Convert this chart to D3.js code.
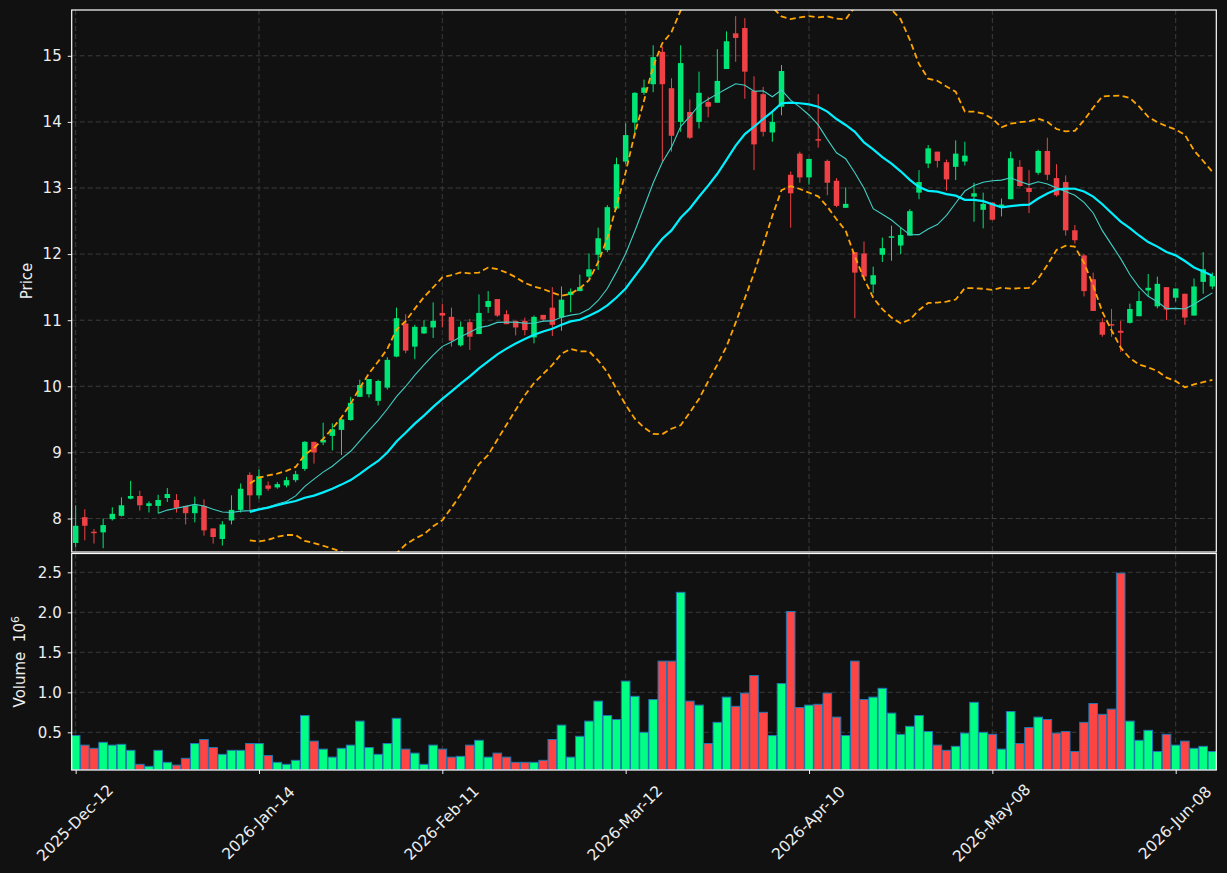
<!DOCTYPE html>
<html>
<head>
<meta charset="utf-8">
<script src="https://cdn.jsdelivr.net/npm/d3@7"></script>
<style>
  html, body { margin: 0; padding: 0; background: #111111; }
  #chart { width: 1227px; height: 873px; }
  text { font-family: "DejaVu Sans", sans-serif; }
</style>
</head>
<body>
<div id="chart"></div>
<script>
// Size
const WIDTH = 1227;
const HEIGHT = 873;

// Daily prices
const opens = [
  7.63, 8.02, 7.80, 7.79, 7.99, 8.04, 8.30, 8.34, 8.19, 8.19,
  8.31, 8.28, 8.19, 8.08, 8.19, 7.85, 7.69, 7.97, 8.13, 8.66,
  8.35, 8.50, 8.47, 8.50, 8.58, 8.75, 9.16, 9.15, 9.25, 9.34,
  9.49, 9.84, 9.88, 9.78, 9.98, 10.45, 10.95, 10.60, 10.80, 10.89,
  11.11, 11.05, 10.62, 10.97, 10.79, 11.20, 11.32, 11.09, 10.99, 10.99,
  10.74, 11.08, 11.19, 11.04, 11.38, 11.44, 11.66, 11.99, 12.06, 12.69,
  13.40, 13.99, 14.44, 14.57, 15.06, 14.51, 14.00, 14.15, 14.00, 14.30,
  14.29, 14.80, 15.34, 15.42, 14.47, 14.42, 13.84, 14.23, 13.20, 13.52,
  13.16, 13.74, 13.41, 13.11, 12.70, 12.03, 12.01, 11.54, 11.99, 12.25,
  12.13, 12.28, 12.93, 13.37, 13.55, 13.39, 13.32, 13.40, 12.87, 12.67,
  12.78, 12.72, 12.83, 13.32, 13.00, 13.23, 13.56, 13.15, 13.09, 12.36,
  11.98, 11.62, 10.97, 10.94, 10.84, 10.96, 11.06, 11.45, 11.21, 11.50,
  11.34, 11.40, 11.07, 11.58, 11.51
];
const highs = [
  8.20, 8.14, 7.84, 8.00, 8.17, 8.32, 8.57, 8.42, 8.26, 8.36,
  8.46, 8.37, 8.19, 8.33, 8.29, 7.85, 7.96, 8.35, 8.53, 8.70,
  8.74, 8.56, 8.55, 8.63, 8.72, 9.17, 9.16, 9.45, 9.44, 9.51,
  9.84, 10.10, 10.11, 10.10, 10.44, 11.19, 11.09, 10.93, 11.00, 11.27,
  11.25, 11.19, 10.98, 11.02, 11.39, 11.44, 11.32, 11.15, 10.99, 11.04,
  11.07, 11.08, 11.50, 11.51, 11.48, 11.69, 12.01, 12.40, 12.74, 13.46,
  13.98, 14.45, 14.64, 15.16, 15.14, 14.66, 15.16, 14.34, 14.76, 14.38,
  15.10, 15.37, 15.60, 15.57, 14.69, 14.53, 14.16, 14.86, 13.25, 13.55,
  13.44, 14.42, 13.43, 13.15, 13.01, 12.03, 12.19, 11.81, 12.25, 12.43,
  12.41, 12.68, 13.27, 13.65, 13.55, 13.43, 13.72, 13.70, 13.08, 12.93,
  12.78, 12.84, 13.55, 13.42, 13.27, 13.58, 13.76, 13.36, 13.19, 12.44,
  12.00, 11.72, 11.03, 11.17, 10.99, 11.25, 11.44, 11.70, 11.66, 11.50,
  11.48, 11.40, 11.63, 12.03, 11.72
];
const lows = [
  7.57, 7.67, 7.62, 7.55, 7.97, 8.03, 8.29, 8.12, 8.09, 8.08,
  8.25, 8.09, 7.91, 7.94, 7.74, 7.62, 7.59, 7.91, 8.09, 8.11,
  8.30, 8.42, 8.45, 8.47, 8.55, 8.72, 8.83, 9.11, 9.03, 8.96,
  9.48, 9.84, 9.83, 9.71, 9.95, 10.44, 10.50, 10.41, 10.79, 10.73,
  10.89, 10.60, 10.60, 10.55, 10.79, 11.11, 11.05, 10.94, 10.77, 10.77,
  10.65, 10.98, 10.76, 10.84, 11.12, 11.44, 11.63, 11.76, 12.03, 12.67,
  13.36, 13.78, 14.41, 14.45, 13.40, 13.55, 13.85, 13.74, 13.90, 14.07,
  14.29, 14.80, 14.91, 14.35, 13.27, 13.78, 13.70, 14.10, 12.40, 13.08,
  13.05, 13.61, 12.89, 12.71, 12.70, 11.03, 11.61, 11.41, 11.88, 11.90,
  12.00, 12.28, 12.83, 13.30, 13.31, 12.96, 13.12, 13.34, 12.49, 12.39,
  12.51, 12.57, 12.83, 13.02, 12.62, 13.20, 13.12, 12.87, 12.28, 12.16,
  11.36, 11.14, 10.75, 10.75, 10.52, 10.95, 11.06, 11.36, 11.18, 11.00,
  11.28, 10.93, 11.07, 11.40, 11.47
];
const closes = [
  7.89, 7.89, 7.79, 7.90, 8.07, 8.20, 8.34, 8.20, 8.23, 8.28,
  8.37, 8.16, 8.08, 8.20, 7.82, 7.72, 7.91, 8.13, 8.45, 8.35,
  8.64, 8.45, 8.52, 8.58, 8.67, 9.16, 9.00, 9.19, 9.35, 9.50,
  9.75, 10.02, 10.11, 10.08, 10.40, 11.03, 10.54, 10.90, 10.90, 10.99,
  11.07, 10.69, 10.90, 10.75, 11.11, 11.29, 11.07, 10.94, 10.89, 10.85,
  11.05, 11.01, 10.93, 11.31, 11.43, 11.50, 11.77, 12.24, 12.71, 13.36,
  13.80, 14.44, 14.52, 14.98, 14.57, 13.79, 14.89, 13.76, 14.44, 14.23,
  14.62, 15.22, 15.27, 14.76, 13.66, 13.85, 14.00, 14.77, 12.92, 13.16,
  13.44, 13.72, 13.08, 12.73, 12.76, 11.72, 11.66, 11.68, 12.09, 12.27,
  12.29, 12.65, 13.09, 13.60, 13.41, 13.13, 13.52, 13.49, 12.92, 12.76,
  12.52, 12.75, 13.45, 13.03, 12.94, 13.56, 13.20, 12.89, 12.36, 12.21,
  11.44, 11.14, 10.78, 10.92, 10.81, 11.17, 11.29, 11.49, 11.55, 11.16,
  11.48, 11.04, 11.51, 11.77, 11.67
];
// Volume, millions
const volumes = [
  0.46, 0.34, 0.30, 0.375, 0.34, 0.35, 0.275, 0.10, 0.075, 0.275,
  0.125, 0.09, 0.175, 0.36, 0.41, 0.31, 0.225, 0.275, 0.275, 0.36,
  0.36, 0.21, 0.125, 0.10, 0.15, 0.71, 0.39, 0.29, 0.19, 0.30,
  0.34, 0.64, 0.31, 0.225, 0.36, 0.675, 0.29, 0.24, 0.10, 0.34,
  0.29, 0.19, 0.20, 0.34, 0.40, 0.19, 0.24, 0.19, 0.125, 0.125,
  0.125, 0.15, 0.41, 0.59, 0.19, 0.45, 0.64, 0.89, 0.71, 0.66,
  1.14, 0.95, 0.50, 0.91, 1.39, 1.39, 2.25, 0.89, 0.84, 0.36,
  0.625, 0.94, 0.825, 0.99, 1.21, 0.75, 0.46, 1.11, 2.01, 0.81,
  0.84, 0.85, 0.99, 0.69, 0.46, 1.39, 0.91, 0.94, 1.05, 0.74,
  0.475, 0.575, 0.71, 0.51, 0.34, 0.275, 0.325, 0.49, 0.875, 0.50,
  0.475, 0.29, 0.76, 0.36, 0.56, 0.69, 0.66, 0.49, 0.51, 0.26,
  0.625, 0.86, 0.725, 0.79, 2.49, 0.64, 0.40, 0.525, 0.26, 0.475,
  0.34, 0.39, 0.30, 0.325, 0.26
];

// Date labels (every 20 sessions)
const tickIndex = [0, 20, 40, 60, 80, 100, 120];
const tickLabels = ["2025-Dec-12", "2026-Jan-14", "2026-Feb-11", "2026-Mar-12", "2026-Apr-10", "2026-May-08", "2026-Jun-08"];
const priceTicks = [8, 9, 10, 11, 12, 13, 14, 15];
const volumeTicks = [0.5, 1.0, 1.5, 2.0, 2.5];

// Colors
const UP = "#00e676";
const DOWN = "#ef4146";
const VOL_UP = "#00ff82";
const VOL_DOWN = "#ff4444";
const GRID = "#3c3c3c";
const TEXT = "#eeeeee";

// Rolling helpers for moving averages and bands
function rollingMean(arr, n) {
  return arr.map((d, i) => (i < n - 1 ? null : d3.mean(arr.slice(i - n + 1, i + 1))));
}
function rollingStd(arr, n) {
  return arr.map((d, i) => (i < n - 1 ? null : d3.deviation(arr.slice(i - n + 1, i + 1))));
}
const ma10 = rollingMean(closes, 10);
const ma20 = rollingMean(closes, 20);
const sd20 = rollingStd(closes, 20);
const upper = ma20.map((m, i) => (m === null ? null : m + 2 * sd20[i]));
const lower = ma20.map((m, i) => (m === null ? null : m - 2 * sd20[i]));

// Panels
const LEFT = 71.7;
const RIGHT = 1216.3;
const P_TOP = 10;
const P_BOTTOM = 552;
const V_TOP = 553.5;
const V_BOTTOM = 770;

const svg = d3
  .select("#chart")
  .append("svg")
  .attr("width", WIDTH)
  .attr("height", HEIGHT)
  .style("background", "#111111");

const x = d3.scaleLinear().domain([-0.43, closes.length - 1 + 0.43]).range([LEFT, RIGHT]);
const yP = d3.scaleLinear().domain([7.493, 15.693]).range([P_BOTTOM, P_TOP]);
const yV = d3.scaleLinear().domain([0.029, 2.754]).range([V_BOTTOM, P_BOTTOM]);

const step = x(1) - x(0);

svg.append("clipPath").attr("id", "clipP")
  .append("rect").attr("x", LEFT).attr("y", P_TOP).attr("width", RIGHT - LEFT).attr("height", P_BOTTOM - P_TOP);
svg.append("clipPath").attr("id", "clipV")
  .append("rect").attr("x", LEFT).attr("y", V_TOP).attr("width", RIGHT - LEFT).attr("height", V_BOTTOM - V_TOP);

// Grid
function grid(g, yScale, ticks, top, bottom) {
  g.selectAll("line.h")
    .data(ticks)
    .enter()
    .append("line")
    .attr("x1", LEFT).attr("x2", RIGHT)
    .attr("y1", (d) => yScale(d)).attr("y2", (d) => yScale(d))
    .attr("stroke", GRID).attr("stroke-dasharray", "5,3");
  g.selectAll("line.v")
    .data(tickIndex)
    .enter()
    .append("line")
    .attr("x1", (d) => x(d)).attr("x2", (d) => x(d))
    .attr("y1", top).attr("y2", bottom)
    .attr("stroke", GRID).attr("stroke-dasharray", "5,3");
}
grid(svg.append("g"), yP, priceTicks, P_TOP, P_BOTTOM);
grid(svg.append("g"), yV, volumeTicks, V_TOP, V_BOTTOM);

// Candles
const idx = d3.range(closes.length);
const candles = svg.append("g").attr("clip-path", "url(#clipP)");

candles.selectAll("line")
  .data(idx)
  .enter()
  .append("line")
  .attr("x1", (i) => x(i)).attr("x2", (i) => x(i))
  .attr("y1", (i) => yP(highs[i])).attr("y2", (i) => yP(lows[i]))
  .attr("stroke", (i) => (closes[i] >= opens[i] ? UP : DOWN))
  .attr("stroke-width", 1);

candles.selectAll("rect")
  .data(idx)
  .enter()
  .append("rect")
  .attr("x", (i) => x(i) - step * 0.3)
  .attr("width", step * 0.6)
  .attr("y", (i) => yP(Math.max(opens[i], closes[i])))
  .attr("height", (i) => Math.max(1.5, Math.abs(yP(opens[i]) - yP(closes[i]))))
  .attr("fill", (i) => (closes[i] >= opens[i] ? UP : DOWN));

// Moving averages + bands
const lines = svg.append("g").attr("clip-path", "url(#clipP)");
function lineOf(values) {
  return d3.line()
    .defined((i) => values[i] !== null)
    .x((i) => x(i))
    .y((i) => yP(values[i]))(idx);
}
lines.append("path").attr("d", lineOf(ma10))
  .attr("fill", "none").attr("stroke", "#3fcfc4").attr("stroke-width", 1.1);
lines.append("path").attr("d", lineOf(ma20))
  .attr("fill", "none").attr("stroke", "#00f0ff").attr("stroke-width", 2.2);
[upper, lower].forEach((band) => {
  lines.append("path").attr("d", lineOf(band))
    .attr("fill", "none").attr("stroke", "#ffa500").attr("stroke-width", 1.8)
    .attr("stroke-dasharray", "6,3.5");
});

// Volume bars
svg.append("g")
  .attr("clip-path", "url(#clipV)")
  .selectAll("rect")
  .data(idx)
  .enter()
  .append("rect")
  .attr("x", (i) => x(i) - step * 0.47)
  .attr("width", step * 0.94)
  .attr("y", (i) => yV(volumes[i]))
  .attr("height", (i) => V_BOTTOM - yV(volumes[i]))
  .attr("fill", (i) => (closes[i] >= opens[i] ? VOL_UP : VOL_DOWN))
  .attr("stroke", "#1f77b4")
  .attr("stroke-width", 1);

// Axes
function styleAxis(g) {
  g.select(".domain").remove();
  g.selectAll(".tick line").attr("stroke", TEXT);
  g.selectAll(".tick text").attr("fill", TEXT).style("font-size", "15px")
    .style("font-family", "DejaVu Sans");
}
svg.append("g")
  .attr("transform", "translate(" + LEFT + ",0)")
  .call(d3.axisLeft(yP).tickValues(priceTicks).tickSize(4).tickPadding(6).tickFormat(d3.format("d")))
  .call(styleAxis);
svg.append("g")
  .attr("transform", "translate(" + LEFT + ",0)")
  .call(d3.axisLeft(yV).tickValues(volumeTicks).tickSize(4).tickPadding(6).tickFormat(d3.format(".1f")))
  .call(styleAxis);

const xAxis = svg.append("g")
  .attr("transform", "translate(0," + V_BOTTOM + ")")
  .call(d3.axisBottom(x).tickValues(tickIndex).tickSize(4).tickFormat((d) => tickLabels[tickIndex.indexOf(d)]))
  .call(styleAxis);
xAxis.selectAll(".tick text")
  .attr("text-anchor", "middle")
  .attr("dy", null)
  .attr("y", null)
  .attr("dominant-baseline", "central")
  .style("font-size", "15.5px")
  .attr("transform", "translate(-1,53) rotate(-45)");

// Spines
[[P_TOP, P_BOTTOM], [V_TOP, V_BOTTOM]].forEach(([t, b]) => {
  svg.append("rect")
    .attr("x", LEFT).attr("y", t)
    .attr("width", RIGHT - LEFT).attr("height", b - t)
    .attr("fill", "none").attr("stroke", "#ffffff").attr("stroke-width", 1.2);
});

// Axis titles
svg.append("text")
  .attr("transform", "translate(32," + (P_TOP + P_BOTTOM) / 2 + ") rotate(-90)")
  .attr("text-anchor", "middle")
  .attr("fill", TEXT)
  .style("font-size", "15px")
  .text("Price");

const vLabel = svg.append("text")
  .attr("transform", "translate(25," + (V_TOP + V_BOTTOM) / 2 + ") rotate(-90)")
  .attr("text-anchor", "middle")
  .attr("fill", TEXT)
  .style("font-size", "15px");
vLabel.append("tspan").text("Volume\u00a0\u00a010");
vLabel.append("tspan").attr("dy", -6).style("font-size", "11px").text("6");
</script>
</body>
</html>
